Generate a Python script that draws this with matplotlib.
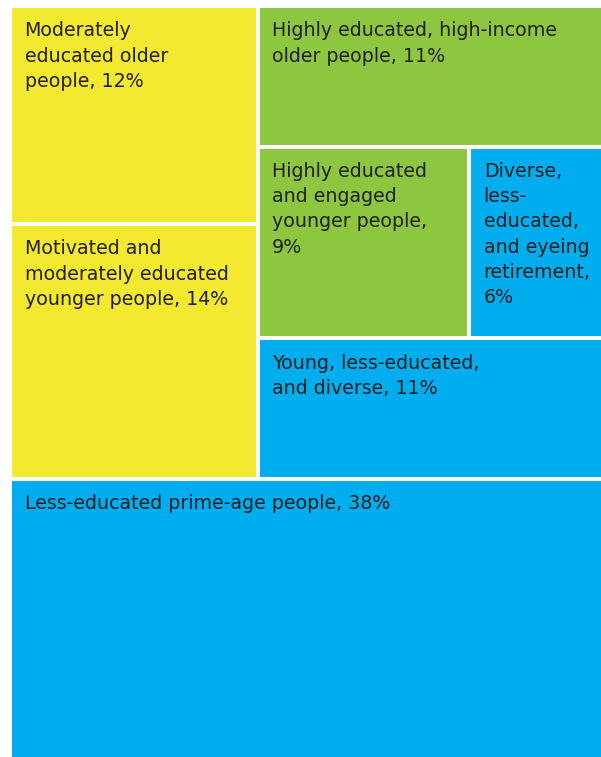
import matplotlib
matplotlib.use("Agg")
import matplotlib.pyplot as plt
from matplotlib.patches import Rectangle

# Data
labels = [
    "Moderately\neducated older\npeople, 12%",
    "Motivated and\nmoderately educated\nyounger people, 14%",
    "Highly educated, high-income\nolder people, 11%",
    "Highly educated\nand engaged\nyounger people,\n9%",
    "Diverse,\nless-\neducated,\nand eyeing\nretirement,\n6%",
    "Young, less-educated,\nand diverse, 11%",
    "Less-educated prime-age people, 38%",
]
values = [12, 14, 11, 9, 6, 11, 38]
colors = ["#F3EA2F", "#F3EA2F", "#8DC63F", "#8DC63F", "#00AEEF", "#00AEEF", "#00AEEF"]

total = sum(values)
rects = [None] * 7
# bottom band
bh = values[6] / total
top_h = 1 - bh
rects[6] = (0, top_h, 1, bh)
# left column (0, 1)
top_total = total - values[6]
lw = (values[0] + values[1]) / top_total
h0 = top_h * values[0] / (values[0] + values[1])
rects[0] = (0, 0, lw, h0)
rects[1] = (0, h0, lw, top_h - h0)
# right column (2, [3,4], 5)
rw = 1 - lw
rsum = values[2] + values[3] + values[4] + values[5]
h2 = top_h * values[2] / rsum
hm = top_h * (values[3] + values[4]) / rsum
rects[2] = (lw, 0, rw, h2)
w3 = rw * values[3] / (values[3] + values[4])
rects[3] = (lw, h2, w3, hm)
rects[4] = (lw + w3, h2, rw - w3, hm)
rects[5] = (lw, h2 + hm, rw, top_h - h2 - hm)

fig = plt.figure(figsize=(6.01, 7.57), dpi=100)
W, H = 601, 757
left_px, top_px, right_px, bot_px = 10, 6, 610, 764
ax = fig.add_axes([left_px / W, (H - bot_px) / H, (right_px - left_px) / W, (bot_px - top_px) / H])
ax.set_xlim(0, 1)
ax.set_ylim(1, 0)
ax.axis("off")

for (x, y, w, h), c, lab in zip(rects, colors, labels):
    ax.add_patch(Rectangle((x, y), w, h, facecolor=c, edgecolor="white", linewidth=2.9))
    ax.annotate(lab, xy=(x, y), xytext=(10.5, -11), textcoords="offset points",
                ha="left", va="top", fontsize=13.7, color="#231F20",
                family=["DejaVu Sans"], linespacing=1.42)

fig.savefig("out.png", dpi=100)
